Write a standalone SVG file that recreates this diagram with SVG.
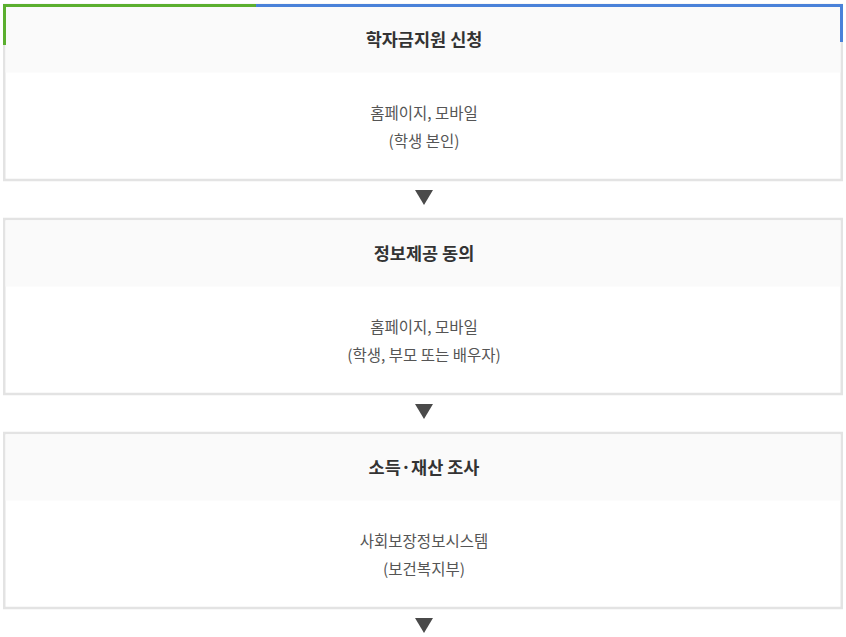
<svg xmlns="http://www.w3.org/2000/svg" width="846" height="637" viewBox="0 0 846 637">
<style>
.box{fill:#fff;stroke:#e3e3e3;stroke-width:2.5}
.hd{fill:#fafafa}
.t{font-family:"Noto Sans CJK KR","Noto Sans",sans-serif;font-size:17.5px;font-weight:bold;fill:#333;text-anchor:middle}
.b{font-family:"Noto Sans CJK KR","Noto Sans",sans-serif;font-size:15.5px;fill:#555;text-anchor:middle}
.arr{fill:#4a4a4a}
</style>
<rect width="846" height="637" fill="#fff"/>
<g id="node1">
<rect class="box" x="4.25" y="5" width="837.5" height="175"/>
<rect class="hd" x="5.5" y="7" width="835" height="65.5"/>
<rect x="3" y="4" width="253" height="3" fill="#5baf2f"/>
<rect x="256" y="4" width="587" height="3" fill="#4a82d9"/>
<rect x="3" y="4" width="3" height="41" fill="#5baf2f"/>
<rect x="840" y="4" width="3" height="38" fill="#4a82d9"/>
<text class="t" x="424" y="46">학자금지원 신청</text>
<text class="b" x="424" y="119">홈페이지, 모바일</text>
<text class="b" x="424" y="147">(학생 본인)</text>
</g>
<g id="node2">
<rect class="box" x="4.25" y="219" width="837.5" height="175"/>
<rect class="hd" x="5.5" y="220.5" width="835" height="66"/>
<text class="t" x="424" y="260">정보제공 동의</text>
<text class="b" x="424" y="333">홈페이지, 모바일</text>
<text class="b" x="424" y="361">(학생, 부모 또는 배우자)</text>
</g>
<g id="node3">
<rect class="box" x="4.25" y="433" width="837.5" height="175"/>
<rect class="hd" x="5.5" y="434.5" width="835" height="66"/>
<text class="t" x="424" y="474">소득·재산 조사</text>
<text class="b" x="424" y="547">사회보장정보시스템</text>
<text class="b" x="424" y="575">(보건복지부)</text>
</g>
<g id="connectors">
<polygon class="arr" points="415,190 433,190 424,205"/>
<polygon class="arr" points="415,404 433,404 424,419"/>
<polygon class="arr" points="415,618 433,618 424,633"/>
</g>
</svg>
